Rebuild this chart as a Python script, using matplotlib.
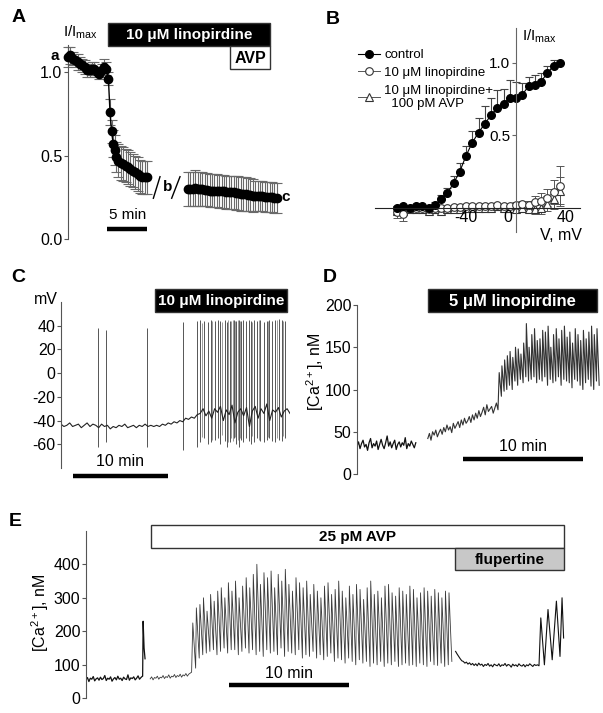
import numpy as np
import matplotlib.pyplot as plt
from matplotlib.patches import Rectangle

plt.rcParams['font.family'] = ['Liberation Sans', 'DejaVu Sans']
plt.rcParams['mathtext.fontset'] = 'custom'
plt.rcParams['mathtext.rm'] = 'Liberation Sans'
plt.rcParams['mathtext.it'] = 'Liberation Sans:italic'
plt.rcParams['mathtext.bf'] = 'Liberation Sans:bold'

W, H = 603, 713
AXC = '#555555'

# ---------------- A: I/Imax time course ----------------
a_t1 = [0, 0.3, 0.6, 0.9, 1.2, 1.5, 1.8, 2.1, 2.4, 2.7, 3.0, 3.3, 3.6, 3.9, 4.2, 4.5, 4.8,
        5.05, 5.25, 5.45, 5.65, 5.85, 6.05, 6.3, 6.6, 6.9, 7.2, 7.5, 7.8, 8.1, 8.4, 8.7,
        9.0, 9.3, 9.6, 9.9]
a_v1 = [1.09, 1.10, 1.08, 1.07, 1.06, 1.05, 1.04, 1.03, 1.01, 1.01, 1.02, 1.02, 1.00, 0.99,
        1.01, 1.03, 1.02, 0.96, 0.76, 0.645, 0.57, 0.535, 0.49, 0.47, 0.455, 0.45, 0.44,
        0.43, 0.42, 0.41, 0.40, 0.39, 0.375, 0.37, 0.37, 0.37]
a_e1 = [0.06, 0.05, 0.04, 0.04, 0.05, 0.04, 0.04, 0.04, 0.04, 0.04, 0.04, 0.04, 0.03, 0.03,
        0.04, 0.05, 0.04, 0.04, 0.08, 0.07, 0.08, 0.09, 0.09, 0.10, 0.10, 0.10, 0.10, 0.10,
        0.10, 0.10, 0.10, 0.10, 0.10, 0.10, 0.10, 0.10]
a_t2 = [15.0, 15.3, 15.6, 15.9, 16.2, 16.5, 16.8, 17.1, 17.4, 17.7, 18.0, 18.3, 18.6, 18.9,
        19.2, 19.5, 19.8, 20.1, 20.4, 20.7, 21.0, 21.3, 21.6, 21.9, 22.2, 22.5, 22.8, 23.1,
        23.4, 23.7, 24.0, 24.3, 24.6, 24.9, 25.2, 25.5, 25.8, 26.1]
a_v2 = [0.30, 0.30, 0.30, 0.305, 0.30, 0.30, 0.30, 0.295, 0.295, 0.29, 0.29, 0.29, 0.29,
        0.285, 0.285, 0.285, 0.28, 0.28, 0.28, 0.28, 0.275, 0.275, 0.27, 0.27, 0.27, 0.265,
        0.265, 0.26, 0.26, 0.26, 0.255, 0.255, 0.25, 0.25, 0.25, 0.25, 0.245, 0.245]
a_e2 = [0.10, 0.10, 0.10, 0.11, 0.10, 0.10, 0.10, 0.10, 0.10, 0.10, 0.10, 0.10, 0.10, 0.10,
        0.10, 0.10, 0.10, 0.10, 0.10, 0.10, 0.10, 0.10, 0.10, 0.10, 0.10, 0.10, 0.10, 0.10,
        0.09, 0.09, 0.09, 0.09, 0.09, 0.09, 0.09, 0.09, 0.09, 0.09]

# ---------------- B: I-V relation ----------------
b_v = [-95, -90, -85, -80, -75, -70, -65, -60, -55, -50, -45, -40, -35, -30, -25, -20, -15,
       -10, -5, 0, 5, 10, 15, 20, 25, 30, 35]
b_ctrl = [0.0, 0.01, 0.0, 0.01, 0.01, 0.0, 0.02, 0.06, 0.10, 0.17, 0.25, 0.36, 0.45, 0.52,
          0.58, 0.64, 0.69, 0.72, 0.76, 0.76, 0.78, 0.84, 0.85, 0.87, 0.93, 0.98, 1.0]
b_ctrl_err = [0.01, 0.01, 0.01, 0.01, 0.01, 0.01, 0.02, 0.03, 0.04, 0.05, 0.06, 0.07, 0.08,
              0.10, 0.12, 0.12, 0.12, 0.10, 0.12, 0.11, 0.08, 0.06, 0.07, 0.06, 0.05, 0.04, 0.0]
b_lino = [-0.03, -0.04, -0.01, 0.0, 0.0, -0.01, 0.0, 0.0, 0.0, 0.005, 0.005, 0.01, 0.01, 0.01,
          0.015, 0.015, 0.02, 0.015, 0.01, 0.02, 0.03, 0.02, 0.04, 0.05, 0.07, 0.11, 0.15]
b_lino_err = [0.04, 0.05, 0.02, 0.01, 0.01, 0.01, 0.01, 0.01, 0.01, 0.01, 0.01, 0.01, 0.01,
              0.01, 0.01, 0.01, 0.01, 0.01, 0.01, 0.02, 0.02, 0.03, 0.04, 0.05, 0.06, 0.08, 0.14]
b_avp = [-0.02, -0.02, -0.01, -0.01, -0.01, -0.02, -0.01, -0.02, -0.01, -0.01, -0.01, 0.0,
         0.0, 0.0, 0.0, 0.0, 0.01, 0.0, 0.0, -0.01, 0.0, -0.01, -0.01, 0.0, 0.03, 0.06, 0.12]
b_avp_err = [0.02, 0.02, 0.01, 0.01, 0.01, 0.01, 0.01, 0.01, 0.01, 0.01, 0.01, 0.01, 0.01,
             0.01, 0.01, 0.01, 0.01, 0.01, 0.01, 0.02, 0.02, 0.02, 0.03, 0.04, 0.05, 0.07, 0.09]
b_labels = ['control', '10 \u03bcM linopirdine', '10 \u03bcM linopirdine+\n  100 pM AVP']

# ---------------- C: membrane potential ----------------
c_base = [-43, -45, -44, -42, -45, -44, -43, -46, -44, -42, -45, -43, -44, -46, -43, -45,
          -44, -47, -45, -46, -44, -45, -43, -46, -45, -44, -46, -44, -45, -43, -45, -44,
          -45, -44, -45, -43, -44, -42, -43, -41, -42, -40, -41, -38, -39, -37, -38, -35,
          -34, -30, -36, -32, -38, -30, -33, -28, -40, -31, -35, -27, -42, -33, -30, -36,
          -29, -45, -32, -28, -38, -30, -34, -26, -40, -31, -33, -29, -37, -32, -30, -34]
c_spk_t = [4.0, 4.8, 9.2, 13.1, 14.5, 14.9, 15.3, 15.7, 16.0, 16.5, 16.75, 17.0, 17.5, 17.75,
           18.1, 18.5, 18.75, 19.0, 19.25, 19.5, 19.8, 20.1, 20.3, 20.6, 21.0, 21.3, 21.7,
           22.0, 22.3, 22.6, 22.9, 23.3, 23.65, 24.0]
c_spk_hi = [38, 36, 38, 43, 44, 45, 44, 43, 45, 44, 45, 44, 45, 43, 44, 45, 44, 45, 44, 45,
            44, 45, 44, 45, 44, 45, 43, 44, 45, 44, 45, 46, 45, 44]
c_spk_lo = [-62, -58, -62, -65, -62, -58, -55, -60, -58, -56, -55, -60, -57, -62, -58, -55,
            -60, -62, -56, -58, -55, -57, -60, -58, -55, -57, -58, -56, -55, -57, -58, -56,
            -57, -55]
# fainter spikes in the dense burst region
c_spk2_t = [15.1, 16.2, 17.2, 17.9, 18.2, 18.35, 18.65, 18.9, 19.1, 20.45, 21.15, 22.15,
            23.1, 23.8]
c_spk2_hi = [42, 44, 43, 45, 44, 45, 44, 45, 44, 43, 45, 44, 45, 44]
c_spk2_lo = [-54, -56, -52, -58, -55, -57, -54, -56, -55, -53, -56, -54, -55, -53]

# ---------------- D: [Ca2+] with 5 uM linopirdine ----------------
d_seg1 = [33, 38, 30, 36, 40, 32, 35, 28, 37, 42, 31, 36, 33, 39, 29, 35, 41, 34, 30, 37,
          45, 33, 38, 31, 36, 40, 29, 35, 38, 32, 37, 34, 43, 30, 36, 33, 39, 35, 31, 37]
d_rise = [42, 48, 40, 50, 46, 52, 44, 49, 53, 47, 55, 50, 58, 52, 56, 49, 60, 54, 58, 62,
          55, 64, 58, 66, 60, 63, 68, 61, 70, 64, 72, 66, 75, 68, 73, 79, 70, 82, 74, 77,
          80, 72, 78, 84, 76]
d_peaks = [120, 128, 135, 140, 145, 138, 150, 148, 142, 155, 178, 150, 165, 172, 158, 160,
           170, 168, 175, 150, 165, 172, 160, 170, 175, 162, 168, 155, 172, 165, 158, 170,
           160, 168, 175, 165, 172]
d_troughs = [92, 98, 100, 105, 100, 110, 105, 112, 108, 115, 110, 112, 115, 108, 112, 110,
             115, 105, 112, 108, 110, 115, 105, 112, 110, 108, 102, 112, 110, 105, 100, 108,
             112, 104, 100, 110, 105]

# ---------------- E: [Ca2+] with AVP / flupertine ----------------
e_seg1 = [55, 62, 50, 60, 57, 65, 52, 58, 61, 54, 63, 56, 59, 68, 53, 60, 57, 64, 51, 58,
          62, 55, 66, 57, 60, 53, 63, 58, 56, 70, 54, 61, 59, 64, 55, 60, 67, 57, 62, 66]
e_spk1_t = [4.72, 4.76, 4.84, 4.92]
e_spk1_v = [66, 230, 150, 118]
e_seg2 = [58, 64, 55, 62, 60, 66, 57, 63, 61, 68, 59, 65, 62, 70, 60, 66, 64, 71, 62, 68,
          65, 72, 63, 70, 67, 74, 66, 72, 75, 78]
e_peaks = [225, 270, 280, 300, 260, 310, 290, 320, 330, 300, 345,
           320, 350, 300, 335, 360, 330, 370, 400, 340, 375,
           360, 380, 330, 370, 350, 385, 340, 320, 360, 345,
           330, 350, 310, 340, 320, 300, 335, 345, 310, 325,
           350, 320, 300, 335, 310, 340, 325, 295, 330, 350,
           310, 320, 300, 335, 340, 315, 305, 330, 320, 310, 335,
           325, 300, 315, 330, 320, 305, 325, 315, 300, 320, 315]
e_troughs = [90, 120, 130, 135, 140, 145, 130, 140, 150, 135, 145,
             145, 130, 140, 150, 135, 145, 130, 140, 125, 145,
             135, 140, 130, 150, 125, 140, 135, 130, 145, 120,
             130, 125, 140, 120, 130, 115, 125, 135, 110, 120,
             115, 105, 120, 110, 100, 115, 105, 110, 95, 105,
             100, 110, 95, 105, 100, 110, 95, 100, 105, 98, 100,
             95, 105, 100, 95, 110, 100, 98, 105, 95, 100, 110]
e_seg3 = [140, 132, 125, 118, 112, 110, 105, 108, 102, 106, 100, 104, 98, 103, 97, 105, 99,
          102, 95, 101, 98, 104, 96, 100, 94, 102, 99, 97, 103, 95, 100, 98, 104, 96, 101,
          99, 93, 102, 97, 100, 95, 103, 98, 96, 101, 94, 100, 97, 103, 99, 95, 101, 98,
          100, 97]
e_tail_t = [37.9, 38.2, 38.5, 38.85, 39.2, 39.5, 39.67, 39.8]
e_tail_v = [240, 100, 265, 115, 290, 125, 300, 180]

fig = plt.figure(figsize=(W / 100, H / 100), dpi=100)


def px_axes(x0, y0, x1, y1):
    return fig.add_axes([x0 / W, 1 - y1 / H, (x1 - x0) / W, (y1 - y0) / H])


def ftext(x, y, s, **kw):
    fig.text(x / W, 1 - y / H, s, **kw)


def box(x0, y0, x1, y1, s, fc, tc, fs=11):
    fig.add_artist(Rectangle((x0 / W, 1 - y1 / H), (x1 - x0) / W, (y1 - y0) / H,
                             transform=fig.transFigure, fc=fc, ec='#333333', lw=1))
    ftext((x0 + x1) / 2, (y0 + y1) / 2 + 1, s, ha='center', va='center', color=tc,
          fontsize=fs, fontweight='bold')


def left_axis(ax, ticks, labels, fs=11.5):
    for s in ['top', 'right', 'bottom']:
        ax.spines[s].set_visible(False)
    ax.spines['left'].set_color(AXC)
    ax.set_xticks([])
    ax.set_yticks(ticks)
    ax.set_yticklabels(labels)
    ax.tick_params(axis='y', length=3, color=AXC, labelsize=fs, pad=1)
    ax.patch.set_alpha(0)


def osc(tp, peaks, troughs, step):
    t, v = [], []
    for ti, p, tr in zip(tp, peaks, troughs):
        t += [ti, ti + step * 0.8]
        v += [p, tr]
    return t, v


# ---- A ----
ax = px_axes(68, 38.6, 290, 239)
ax.set_xlim(0, 27.75)
ax.set_ylim(0, 1.2)
left_axis(ax, [0, 0.5, 1.0], ['0.0', '0.5', '1.0'])
ax.spines['left'].set_bounds(0, 1.16)
for t, v, e in [(a_t1, a_v1, a_e1), (a_t2, a_v2, a_e2)]:
    ax.errorbar(t, v, yerr=e, fmt='none', ecolor='#6a6a6a', elinewidth=0.8, capsize=3.5,
                capthick=0.8, clip_on=False)
    ax.plot(t, v, '-o', color='k', ms=6, lw=1, clip_on=False, zorder=3)
ax.plot([10.67, 11.5], [0.244, 0.373], color='k', lw=1)
ax.plot([12.96, 14.0], [0.244, 0.373], color='k', lw=1)
ax.text(12.5, 0.31, 'b', fontsize=11, fontweight='bold', ha='center', va='center')
ax.text(26.7, 0.25, 'c', fontsize=11, fontweight='bold', ha='left', va='center')
ax.plot([4.9, 9.9], [0.06, 0.06], color='k', lw=3.2, solid_capstyle='butt')
ax.text(7.4, 0.1, '5 min', fontsize=11, ha='center', va='bottom')
ftext(55, 56, 'a', fontsize=11, fontweight='bold', ha='center', va='center')
ftext(63, 32, r'I/I$_{\mathrm{max}}$', fontsize=11, ha='left', va='center')
box(108, 23, 270, 46, '10 \u03bcM linopirdine', 'black', 'white', 11)
box(230, 46, 270, 69, 'AVP', 'white', 'black', 11.5)

# ---- B ----
ax = px_axes(375, 28, 580, 232)
ax.set_xlim(-112.8, 51.2)
ax.set_ylim(-0.166, 1.241)
ax.patch.set_alpha(0)
for s in ['top', 'right']:
    ax.spines[s].set_visible(False)
ax.spines['left'].set_position(('data', 0))
ax.spines['bottom'].set_position(('data', 0))
ax.spines['left'].set_color('#666666')
ax.spines['bottom'].set_color('#222222')
ax.set_xticks([])
ax.set_yticks([0.5, 1.0])
ax.set_yticklabels(['0.5', '1.0'])
ax.tick_params(axis='y', length=3, color='#666666', labelsize=11, pad=1)
zeros = [0] * len(b_v)
ax.errorbar(b_v, b_lino, yerr=b_lino_err, fmt='none', ecolor='#555555', elinewidth=0.7,
            capsize=3, capthick=0.7)
ax.errorbar(b_v, b_avp, yerr=b_avp_err, fmt='none', ecolor='#555555', elinewidth=0.7,
            capsize=3, capthick=0.7)
ax.errorbar(b_v, b_ctrl, yerr=[zeros, b_ctrl_err], fmt='none', ecolor='#444444',
            elinewidth=0.8, capsize=3, capthick=0.8)
h3, = ax.plot(b_v, b_avp, '-^', color='#555555', lw=0.7, ms=5.5, mfc='white', mec='#333333',
              mew=0.8)
h2, = ax.plot(b_v, b_lino, '-o', color='#555555', lw=0.7, ms=5.5, mfc='white', mec='#333333',
              mew=0.8)
h1, = ax.plot(b_v, b_ctrl, '-o', color='k', lw=0.8, ms=5.5)
for xv, s, dx in [(-40, '-40', 0), (0, '0', -6.5), (40, '40', 0)]:
    ax.text(xv + dx, -0.015, s, fontsize=11.5, ha='center', va='top')
ax.text(36, -0.138, 'V, mV', fontsize=11.5, ha='center', va='top')
ftext(522, 36, r'I/I$_{\mathrm{max}}$', fontsize=11, ha='left', va='center')
fig.legend([h1, h2, h3], b_labels, loc='upper left', bbox_to_anchor=(358 / W, 1 - 49 / H),
           frameon=False, fontsize=9.5, handlelength=1.7, handletextpad=0.3,
           labelspacing=0.42, borderpad=0, borderaxespad=0)

# ---- C ----
ax = px_axes(61, 302, 290, 468)
ax.set_xlim(0, 24.5)
ax.set_ylim(-80, 60)
left_axis(ax, [-60, -40, -20, 0, 20, 40], ['-60', '-40', '-20', '0', '20', '40'])
ax.vlines(c_spk2_t, c_spk2_lo, c_spk2_hi, color='#9a9a9a', lw=0.7)
ax.vlines(c_spk_t, c_spk_lo, c_spk_hi, color='#555555', lw=0.7)
ax.plot(np.linspace(0, 24.5, len(c_base)), c_base, color='#222222', lw=0.8)
ax.plot([1.3, 11.4], [-86.7, -86.7], color='k', lw=3.2, clip_on=False, solid_capstyle='butt')
ax.text(6.3, -80.5, '10 min', fontsize=11.5, ha='center', va='bottom')
ftext(58, 299, 'mV', fontsize=11.5, ha='right', va='center')
box(155, 289, 287, 312, '10 \u03bcM linopirdine', 'black', 'white', 11)

# ---- D ----
ax = px_axes(357, 305, 600, 474)
ax.set_xlim(0, 20.25)
ax.set_ylim(0, 200)
left_axis(ax, [0, 50, 100, 150, 200], ['0', '50', '100', '150', '200'])
ax.plot(np.linspace(0, 4.9, len(d_seg1)), d_seg1, color='#111111', lw=0.9)
tp = np.linspace(11.85, 20.0, len(d_peaks))
ot, ov = osc(tp, d_peaks, d_troughs, tp[1] - tp[0])
ax.plot(list(np.linspace(5.9, 11.75, len(d_rise))) + ot, d_rise + ov, color='#333333', lw=0.8)
ax.plot([8.8, 18.8], [17.75, 17.75], color='k', lw=3.2, solid_capstyle='butt')
ax.text(13.8, 24, '10 min', fontsize=11.5, ha='center', va='bottom')
ftext(315, 372, r'[Ca$^{2+}$], nM', fontsize=11.5, rotation=90, ha='center', va='center')
box(428, 289, 597, 312, '5 \u03bcM linopirdine', 'black', 'white', 12)

# ---- E ----
ax = px_axes(86, 530.8, 566, 698.3)
ax.set_xlim(0, 40)
ax.set_ylim(0, 500)
left_axis(ax, [0, 100, 200, 300, 400], ['0', '100', '200', '300', '400'])
ax.plot(list(np.linspace(0, 4.7, len(e_seg1))) + e_spk1_t, e_seg1 + e_spk1_v,
        color='#111111', lw=0.9)
tp = np.linspace(8.9, 30.25, len(e_peaks))
ot, ov = osc(tp, e_peaks, e_troughs, tp[1] - tp[0])
ax.plot(list(np.linspace(5.35, 8.8, len(e_seg2))) + ot, e_seg2 + ov, color='#3a3a3a', lw=0.6)
ax.plot(list(np.linspace(30.8, 37.75, len(e_seg3))) + e_tail_t, e_seg3 + e_tail_v,
        color='#111111', lw=0.8)
ax.plot([11.9, 21.9], [40, 40], color='k', lw=3.2, solid_capstyle='butt')
ax.text(16.9, 52, '10 min', fontsize=11.5, ha='center', va='bottom')
ftext(40, 613, r'[Ca$^{2+}$], nM', fontsize=11.5, rotation=90, ha='center', va='center')
box(151, 525, 564, 548, '25 pM AVP', 'white', 'black', 11)
box(455, 548, 564, 570, 'flupertine', '#c8c8c8', 'black', 11)

# panel letters
for x, y, s in [(19, 18, 'A'), (333, 19, 'B'), (18, 277, 'C'), (330, 278, 'D'), (15, 521, 'E')]:
    ftext(x, y, s, fontsize=14, fontweight='bold', ha='center', va='center')

fig.savefig('out.png', dpi=100)
